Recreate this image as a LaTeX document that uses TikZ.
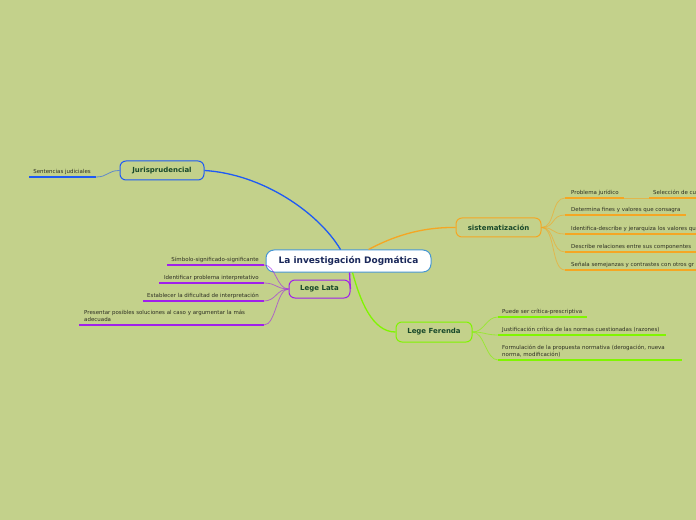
\documentclass[tikz,border=0pt]{standalone}
\usepackage{fontspec}
\setmainfont{DejaVu Sans}
\usepackage{xcolor}
\usepackage{tikz}
\usetikzlibrary{calc}

\definecolor{mapbg}{RGB}{195,209,139}
\definecolor{cenline}{RGB}{70,150,210}
\definecolor{centext}{RGB}{26,40,90}
\definecolor{topictext}{RGB}{24,72,42}
\definecolor{leaftext}{RGB}{45,47,35}
\definecolor{mblue}{RGB}{30,90,245}
\definecolor{morange}{RGB}{245,166,35}
\definecolor{mgreen}{RGB}{128,245,0}
\definecolor{mpurple}{RGB}{160,32,235}

\begin{document}
\begin{tikzpicture}[x=1bp,y=-1bp,
  topic/.style={draw,rounded corners=6bp,line width=1bp,minimum height=19bp,inner sep=0pt,
    font=\fontsize{7}{8}\selectfont\bfseries,text=topictext},
  leaf/.style={inner sep=0pt,font=\fontsize{5.5}{7}\selectfont,text=leaftext,text depth=0.5bp},
  uline/.style={line width=1.6bp},
  link/.style={line width=0.8bp,opacity=0.6},
  branch/.style={line width=1.3bp}]

  \useasboundingbox[fill=mapbg] (0,0) rectangle (696,520);

  % central topic and main branches
  \node[draw=cenline,fill=white,rounded corners=8bp,line width=1bp,minimum width=165bp,minimum height=22bp,
    font=\fontsize{9}{10}\selectfont\bfseries,text=centext] (cen) at (348.5,261) {La investigación Dogmática};

  \node[topic,draw=mblue,minimum width=84bp] (jur) at (162,170.5) {Jurisprudencial};
  \node[topic,draw=morange,minimum width=85bp] (sis) at (498.5,227.5) {sistematización};
  \node[topic,draw=mgreen,minimum width=76bp,minimum height=20bp] (fer) at (434,332) {Lege Ferenda};
  \node[topic,draw=mpurple,minimum width=61bp,minimum height=18bp] (lata) at (319.5,289) {Lege Lata};

  \draw[mblue,branch] ($(cen.north)+(-8,0)$) .. controls (318,212) and (262,174) .. (jur.east);
  \draw[morange,branch] ($(cen.north)+(20,0)$) .. controls (392,237) and (420,227) .. (sis.west);
  \draw[mgreen,branch] ($(cen.south)+(4,0)$) .. controls (360,300) and (372,332) .. (fer.west);
  \draw[mpurple,branch] ($(cen.south)+(1,0)$) .. controls (350,280) and (350,285) .. (lata.east);

  % Jurisprudencial
  \coordinate (j1) at (96,177);
  \coordinate (k1) at (29,177);
  \node[leaf,anchor=south east] (jt1) at (91,174) {Sentencias judiciales};
  \draw[mblue,uline] (k1) -- (j1);
  \draw[mblue,link] (jur.west) .. controls +(-12,0) and +(12,0) .. (j1);

  % sistematizacion
  \foreach \y/\e/\t [count=\i] in {198/624/Problema jurídico,
      215/686/Determina fines y valores que consagra,
      234/697/Identifica-describe y jerarquiza los valores qu,
      252/697/Describe relaciones entre sus componentes,
      270/697/Señala semejanzas y contrastes con otros gr} {
    \coordinate (s\i) at (565,\y);
    \coordinate (e\i) at (\e,\y);
    \node[leaf,anchor=south west] (st\i) at (571,\y-3) {\t};
    \draw[morange,uline] (s\i) -- (e\i);
    \draw[morange,link] (sis.east) .. controls +(14,0) and +(-14,0) .. (s\i);
  }
  \coordinate (s6) at (649,198);
  \coordinate (e6) at (697,198);
  \node[leaf,anchor=south west] (st6) at (653,195) {Selección de cu};
  \draw[morange,uline] (s6) -- (e6);
  \draw[morange,link] (e1) -- (s6);

  % Lege Ferenda
  \foreach \y/\e/\t [count=\i] in {317/587/Puede ser crítica-prescriptiva,
      335/666/Justificación crítica de las normas cuestionadas (razones),
      360/682/{Formulación de la propuesta normativa (derogación, nueva\\norma, modificación)}} {
    \coordinate (f\i) at (498,\y);
    \coordinate (g\i) at (\e,\y);
    \node[leaf,anchor=south west,align=left] (ft\i) at (502,\y-3) {\t};
    \draw[mgreen,uline] (f\i) -- (g\i);
    \draw[mgreen,link] (fer.east) .. controls +(12,0) and +(-12,0) .. (f\i);
  }

  % Lege Lata
  \foreach \y/\e/\t [count=\i] in {265/167/Símbolo-significado-significante,
      283/159/Identificar problema interpretativo,
      301/143/Establecer la dificultad de interpretación} {
    \coordinate (l\i) at (264,\y);
    \coordinate (m\i) at (\e,\y);
    \node[leaf,anchor=south east] (lt\i) at (259,\y-3) {\t};
    \draw[mpurple,uline] (m\i) -- (l\i);
    \draw[mpurple,link] (lata.west) .. controls +(-12,0) and +(12,0) .. (l\i);
  }
  \coordinate (l4) at (264,325);
  \coordinate (m4) at (79,325);
  \node[leaf,anchor=south west,align=left] (lt4) at (84,322)
    {Presentar posibles soluciones al caso y argumentar la más\\adecuada};
  \draw[mpurple,uline] (m4) -- (l4);
  \draw[mpurple,link] (lata.west) .. controls +(-12,0) and +(12,0) .. (l4);
\end{tikzpicture}
\end{document}
